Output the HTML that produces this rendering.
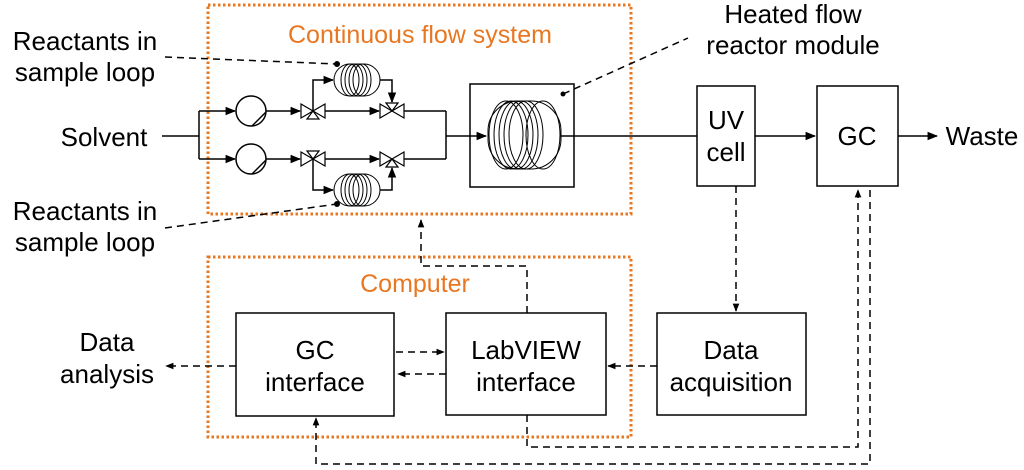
<!DOCTYPE html>
<html><head><meta charset="utf-8"><style>
body{margin:0;background:#fff;}
svg{display:block;font-family:"Liberation Sans",Arial,sans-serif;}
</style></head><body>
<svg width="1024" height="470" viewBox="0 0 1024 470" xmlns="http://www.w3.org/2000/svg">
<defs>
<marker id="a" viewBox="0 0 10 10" refX="9" refY="5" markerWidth="7" markerHeight="7" orient="auto"><path d="M0,1 L10,5 L0,9 z" fill="#000"/></marker>
<marker id="s" viewBox="0 0 10 10" refX="9" refY="5" markerWidth="5.5" markerHeight="5.5" orient="auto"><path d="M0,1 L10,5 L0,9 z" fill="#000"/></marker>
<g id="coil" fill="none" stroke="#000" stroke-width="1">
<rect x="-23" y="-16" width="46" height="32" rx="16"/>
<ellipse cx="-7" cy="0" rx="9" ry="16"/><ellipse cx="-3" cy="0" rx="9" ry="16"/><ellipse cx="1" cy="0" rx="9" ry="16"/><ellipse cx="5" cy="0" rx="9" ry="16"/>
</g>
<g id="valve" fill="#fff" stroke="#000" stroke-width="1.2">
<path d="M-12,-7 L0,0 L-12,7 z M12,-7 L0,0 L12,7 z"/>
</g>
</defs>
<g fill="none" stroke="#e87722" stroke-width="3" stroke-dasharray="2.5 2.5">
<rect x="208" y="5" width="423" height="209"/>
<rect x="208" y="257" width="423" height="180"/>
</g>
<g font-size="25" fill="#e87722" text-anchor="middle">
<text x="420" y="43">Continuous flow system</text>
<text x="415" y="292">Computer</text>
</g>
<g stroke="#000" stroke-width="1.5" fill="none">
<line x1="162" y1="136" x2="199" y2="136"/>
<line x1="199" y1="111" x2="199" y2="159"/>
<line x1="199" y1="111" x2="235" y2="111" marker-end="url(#a)"/>
<line x1="199" y1="159" x2="235" y2="159" marker-end="url(#a)"/>
<circle cx="251" cy="111" r="15"/><circle cx="251" cy="159" r="15"/>
<path d="M252,126 L266,112 M252,174 L266,160"/>
<line x1="266" y1="111" x2="300" y2="111" marker-end="url(#a)"/>
<line x1="266" y1="159" x2="300" y2="159" marker-end="url(#a)"/>
<line x1="325" y1="111" x2="379" y2="111" marker-end="url(#a)"/>
<line x1="325" y1="159" x2="379" y2="159" marker-end="url(#a)"/>
<line x1="404" y1="111" x2="446" y2="111"/>
<line x1="404" y1="159" x2="446" y2="159"/>
<line x1="446" y1="111" x2="446" y2="159"/>
<line x1="446" y1="136" x2="486" y2="136" marker-end="url(#a)"/>
<path d="M313,111 V80 H333" marker-end="url(#a)"/>
<path d="M380,80 H392 V102" marker-end="url(#a)"/>
<path d="M313,159 V190 H333" marker-end="url(#a)"/>
<path d="M380,190 H392 V168" marker-end="url(#a)"/>
<rect x="470" y="84" width="104" height="103"/>
<line x1="561" y1="136" x2="697" y2="136"/>
<line x1="755" y1="136" x2="815" y2="136" marker-end="url(#a)"/>
<line x1="898" y1="136" x2="937" y2="136" marker-end="url(#a)"/>
<rect x="697" y="86" width="58" height="100"/>
<rect x="817" y="86" width="81" height="100"/>
<rect x="236" y="313" width="158" height="103"/>
<rect x="446" y="313" width="160" height="102"/>
<rect x="657" y="313" width="149" height="102"/>
</g>
<use href="#valve" x="313" y="111"/><use href="#valve" x="313" y="159"/>
<use href="#valve" x="392" y="111"/><use href="#valve" x="392" y="159"/>
<path d="M313,111 l-6,8 h12z M392,111 l-6,-8 h12z M313,159 l-6,-8 h12z M392,159 l-6,8 h12z" fill="#fff" stroke="#000" stroke-width="1.2"/>
<use href="#coil" x="357" y="80"/><use href="#coil" x="357" y="190"/>
<g fill="none" stroke="#000" stroke-width="1">
<rect x="488" y="101" width="73" height="68" rx="30"/>
<ellipse cx="506" cy="135" rx="17" ry="34"/><ellipse cx="511" cy="135" rx="17" ry="34"/><ellipse cx="516" cy="135" rx="17" ry="34"/><ellipse cx="521" cy="135" rx="17" ry="34"/><ellipse cx="526" cy="135" rx="17" ry="34"/><ellipse cx="543" cy="135" rx="17" ry="34"/>
</g>
<g fill="#000"><circle cx="337" cy="64" r="3"/><circle cx="337" cy="204" r="3"/><circle cx="563" cy="94" r="2.5"/></g>
<g stroke="#000" stroke-width="1.5" fill="none" stroke-dasharray="7 5">
<line x1="165" y1="57" x2="337" y2="64"/>
<line x1="165" y1="228" x2="337" y2="204"/>
<line x1="563" y1="94" x2="688" y2="38"/>
<path d="M527,313 V266 H421 V220" marker-end="url(#s)"/>
<line x1="736" y1="186" x2="736" y2="311" marker-end="url(#s)"/>
<line x1="657" y1="366" x2="608" y2="366" marker-end="url(#s)"/>
<line x1="396" y1="352" x2="444" y2="352" marker-end="url(#s)"/>
<line x1="446" y1="374" x2="398" y2="374" marker-end="url(#s)"/>
<line x1="236" y1="366" x2="166" y2="366" marker-end="url(#s)"/>
<path d="M527,415 V447 H858 V190" marker-end="url(#s)"/>
<path d="M870,190 V464 H316 V418" marker-end="url(#s)"/>
</g>
<g font-size="26" fill="#000" text-anchor="middle">
<text x="85" y="50">Reactants in</text><text x="85" y="81">sample loop</text>
<text x="85" y="220">Reactants in</text><text x="85" y="251">sample loop</text>
<text x="104" y="146">Solvent</text>
<text x="793" y="23">Heated flow</text><text x="793" y="54">reactor module</text>
<text x="726" y="129">UV</text><text x="726" y="161">cell</text>
<text x="857" y="145">GC</text>
<text x="982" y="145">Waste</text>
<text x="315" y="359">GC</text><text x="315" y="391">interface</text>
<text x="526" y="359">LabVIEW</text><text x="526" y="391">interface</text>
<text x="731" y="359">Data</text><text x="731" y="391">acquisition</text>
<text x="107" y="351">Data</text><text x="107" y="383">analysis</text>
</g>
</svg>
</body></html>
